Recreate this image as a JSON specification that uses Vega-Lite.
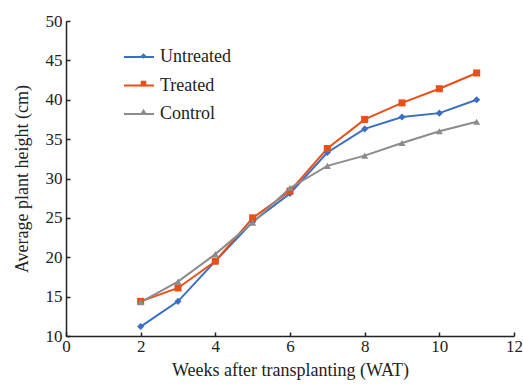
{
  "$schema": "https://vega.github.io/schema/vega-lite/v6.json",
  "autosize": "none",
  "padding": {"left": 66, "top": 21, "right": 9, "bottom": 49},
  "width": 448,
  "height": 315,
  "background": "white",
  "config": {
    "view": {"stroke": null},
    "font": "Liberation Serif",
    "legend": {"labelFont": "Liberation Serif", "titleFont": "Liberation Serif"},
    "axis": {"grid": false, "domainColor": "#222", "tickColor": "#222", "labelColor": "#222", "titleColor": "#222", "labelFont": "Liberation Serif", "titleFont": "Liberation Serif", "labelFontSize": 17, "titleFontSize": 18, "titleFontWeight": "normal", "domainWidth": 1.5, "tickWidth": 1.5}
  },
  "data": {"values": [
    {"week": 2, "series": "Untreated", "height": 11.2},
    {"week": 3, "series": "Untreated", "height": 14.4},
    {"week": 4, "series": "Untreated", "height": 19.5},
    {"week": 5, "series": "Untreated", "height": 24.5},
    {"week": 6, "series": "Untreated", "height": 28.1},
    {"week": 7, "series": "Untreated", "height": 33.3},
    {"week": 8, "series": "Untreated", "height": 36.3},
    {"week": 9, "series": "Untreated", "height": 37.8},
    {"week": 10, "series": "Untreated", "height": 38.3},
    {"week": 11, "series": "Untreated", "height": 40.0},
    {"week": 2, "series": "Treated", "height": 14.4},
    {"week": 3, "series": "Treated", "height": 16.1},
    {"week": 4, "series": "Treated", "height": 19.5},
    {"week": 5, "series": "Treated", "height": 25.0},
    {"week": 6, "series": "Treated", "height": 28.4},
    {"week": 7, "series": "Treated", "height": 33.8},
    {"week": 8, "series": "Treated", "height": 37.5},
    {"week": 9, "series": "Treated", "height": 39.6},
    {"week": 10, "series": "Treated", "height": 41.4},
    {"week": 11, "series": "Treated", "height": 43.4},
    {"week": 2, "series": "Control", "height": 14.3},
    {"week": 3, "series": "Control", "height": 16.9},
    {"week": 4, "series": "Control", "height": 20.4},
    {"week": 5, "series": "Control", "height": 24.4},
    {"week": 6, "series": "Control", "height": 28.8},
    {"week": 7, "series": "Control", "height": 31.6},
    {"week": 8, "series": "Control", "height": 32.9},
    {"week": 9, "series": "Control", "height": 34.5},
    {"week": 10, "series": "Control", "height": 36.0},
    {"week": 11, "series": "Control", "height": 37.2}
  ]},
  "encoding": {
    "x": {"field": "week", "type": "quantitative", "scale": {"domain": [0, 12], "nice": false}, "axis": {"values": [0, 2, 4, 6, 8, 10, 12], "title": "Weeks after transplanting (WAT)", "tickSize": -4, "labelPadding": 6, "titlePadding": 7, "labelFlush": false}},
    "y": {"field": "height", "type": "quantitative", "scale": {"domain": [10, 50], "nice": false, "zero": false}, "axis": {"values": [10, 15, 20, 25, 30, 35, 40, 45, 50], "title": "Average plant height (cm)", "tickSize": -4, "labelPadding": 8, "titlePadding": 14, "labelFlush": false}}
  },
  "layer": [
    {"mark": {"type": "line", "strokeWidth": 2},
     "encoding": {
       "stroke": {"field": "series", "type": "nominal", "sort": null, "scale": {"range": ["#3a6fc4", "#e8501a", "#8c8c8c"]},
         "legend": {"orient": "none", "legendX": 63, "legendY": 26, "title": null, "labelFont": "Liberation Serif", "labelFontSize": 18, "labelColor": "#222", "symbolType": "M-1.667,0H1.667", "symbolSize": 324, "symbolStrokeWidth": 2, "labelOffset": 11, "rowPadding": 9.5, "padding": 0}}
     }},
    {"mark": {"type": "point", "filled": true, "opacity": 1, "size": 50},
     "encoding": {
       "fill": {"field": "series", "type": "nominal", "scale": {"domain": ["Untreated", "Treated", "Control"], "range": ["#3a6fc4", "#e8501a", "#8c8c8c"]},
         "legend": {"orient": "none", "legendX": 68.5, "legendY": 26, "title": null, "labelFont": "Liberation Serif", "labelFontSize": 18, "labelExpr": "''", "labelColor": "transparent", "symbolSize": 30, "labelOffset": 11, "rowPadding": 9.5, "padding": 0, "symbolOpacity": 1}},
       "shape": {"field": "series", "type": "nominal", "scale": {"domain": ["Untreated", "Treated", "Control"], "range": ["diamond", "square", "triangle-up"]}}
     }}
  ]
}
